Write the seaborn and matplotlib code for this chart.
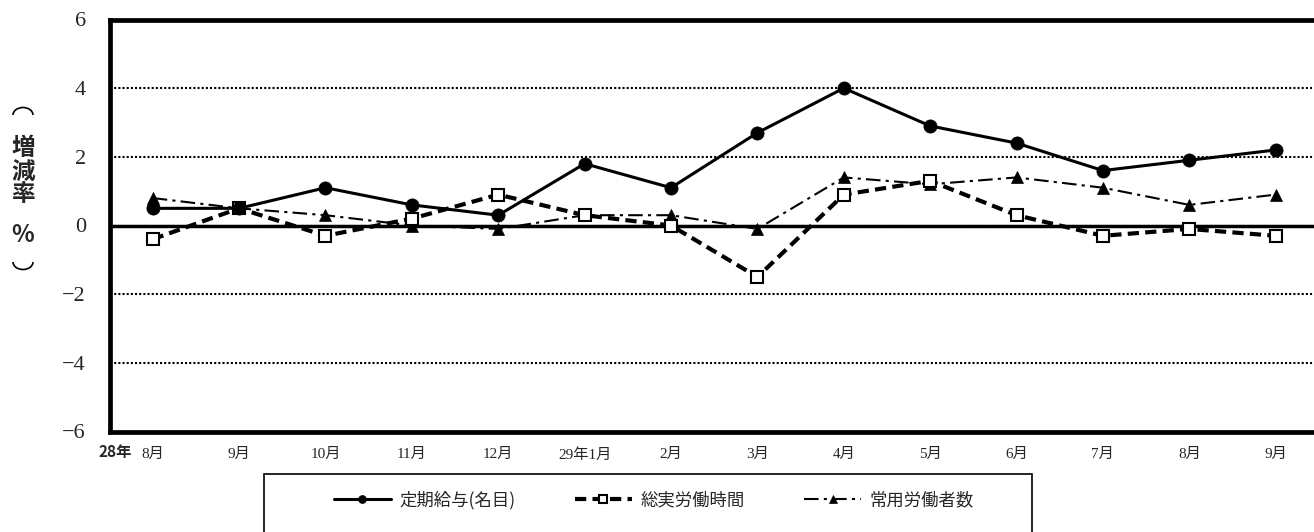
import numpy as np
import pandas as pd
import seaborn as sns
import matplotlib
matplotlib.use("Agg")
from matplotlib import pyplot as plt
from matplotlib.patches import Rectangle, Arc
from matplotlib.ticker import FixedLocator

# Data (前年同月比, %)
months = ["2016-08", "2016-09", "2016-10", "2016-11", "2016-12", "2017-01", "2017-02",
          "2017-03", "2017-04", "2017-05", "2017-06", "2017-07", "2017-08", "2017-09"]
month_labels = ["8月", "9月", "10月", "11月", "12月", "29年1月", "2月",
                "3月", "4月", "5月", "6月", "7月", "8月", "9月"]
wages = [0.5, 0.5, 1.1, 0.6, 0.3, 1.8, 1.1, 2.7, 4.0, 2.9, 2.4, 1.6, 1.9, 2.2]
hours = [-0.4, 0.5, -0.3, 0.2, 0.9, 0.3, 0.0, -1.5, 0.9, 1.3, 0.3, -0.3, -0.1, -0.3]
workers = [0.8, 0.5, 0.3, 0.0, -0.1, 0.3, 0.3, -0.1, 1.4, 1.2, 1.4, 1.1, 0.6, 0.9]
series_names = ["定期給与(名目)", "総実労働時間", "常用労働者数"]
y_ticks = [-6, -4, -2, 0, 2, 4, 6]

W, H = 1314, 532

sns.set_style("white")
plt.rcParams["font.family"] = ["Liberation Serif", "Noto Sans CJK JP"]
plt.rcParams["axes.unicode_minus"] = True

fig = plt.figure(figsize=(W / 100, H / 100), dpi=100)
ax = fig.add_axes([109.5 / W, (H - 431.5) / H, (1318.9 - 109.5) / W, (431.5 - 19.5) / H])

df = pd.DataFrame({"month": months, "wages": wages, "hours": hours, "workers": workers})

sns.lineplot(data=df, x="month", y="wages", ax=ax, color="black", lw=2.2,
             marker="o", markersize=9.5, markeredgecolor="black", markeredgewidth=0.5,
             label=series_names[0], zorder=5)
sns.lineplot(data=df, x="month", y="hours", ax=ax, color="black", lw=3,
             linestyle=(0, (2.7, 1.5)), marker="s", markersize=8.5,
             markerfacecolor="white", markeredgecolor="black", markeredgewidth=1.5,
             label=series_names[1], zorder=4)
sns.lineplot(data=df, x="month", y="workers", ax=ax, color="black", lw=1.5,
             linestyle=(0, (7, 2.5, 1.5, 2.5)), marker="^", markersize=9,
             markeredgecolor="black", markeredgewidth=0.5,
             label=series_names[2], zorder=3)

handles, labels = ax.get_legend_handles_labels()
ax.get_legend().remove()

ax.set_xlim(-0.5, len(months) - 0.5)
ax.set_ylim(-6, 6)
ax.set_yticks(y_ticks)
ax.set_yticklabels([f"{v}".replace("-", "\u2212") for v in y_ticks], fontsize=16)
ax.set_xticks(range(len(months)))
ax.set_xticklabels(month_labels, fontsize=11)
ax.xaxis.set_minor_locator(FixedLocator(np.arange(0.5, len(months) - 0.5, 1)))
ax.tick_params(axis="x", which="major", length=0, pad=12)
ax.tick_params(axis="x", which="minor", direction="in", length=4, width=3, color="black")
ax.tick_params(axis="y", which="major", length=0, pad=17)
ax.set_xlabel("")
ax.set_ylabel("")

# gridlines and zero line
ax.yaxis.grid(True, linestyle=(0, (1, 1)), color="black", lw=1.5)
ax.xaxis.grid(False)
ax.set_axisbelow(True)
ax.axhline(0, color="black", lw=2.5, zorder=2)

for side in ["left", "top", "bottom", "right"]:
    ax.spines[side].set_color("black")
    ax.spines[side].set_linewidth(3.4)

# year prefix before first month label
ax.text(-0.24, -0.05, "28年", transform=ax.get_xaxis_transform(), ha="right", va="center",
        fontsize=11, fontweight="bold", family=["Noto Sans CJK JP"])

# vertical y-axis label（増減率%）
for ch, yp in zip(["増", "減", "率", "%"], [148, 172, 194, 235]):
    fig.text(23 / W, 1 - yp / H, ch, ha="center", va="center", fontsize=17,
             fontweight="bold", family=["Noto Sans CJK JP", "DejaVu Sans"])
# vertical-form brackets drawn as arcs
fig.patches.append(Arc((23 / W, 1 - 115 / H), 20 / W, 15 / H, theta1=0, theta2=180,
                       transform=fig.transFigure, color="black", lw=1.2))
fig.patches.append(Arc((23 / W, 1 - 262 / H), 20 / W, 15 / H, theta1=180, theta2=360,
                       transform=fig.transFigure, color="black", lw=1.2))

# legend box
fig.patches.append(Rectangle((264 / W, -0.1), (1032 - 264) / W, 0.1 + (H - 474) / H,
                             transform=fig.transFigure, fill=False, edgecolor="black", lw=1.2))
leg = fig.legend(handles, labels, loc="center left", bbox_to_anchor=(318 / W, 1 - 500 / H),
                 ncol=3, frameon=False, handlelength=3.3, handletextpad=0.5, columnspacing=3.4,
                 prop={"family": ["Noto Sans CJK JP"], "size": 12.5})
for h in leg.legend_handles:
    h.set_markersize(h.get_markersize() * 0.6)

fig.savefig("out.png", dpi=100)
